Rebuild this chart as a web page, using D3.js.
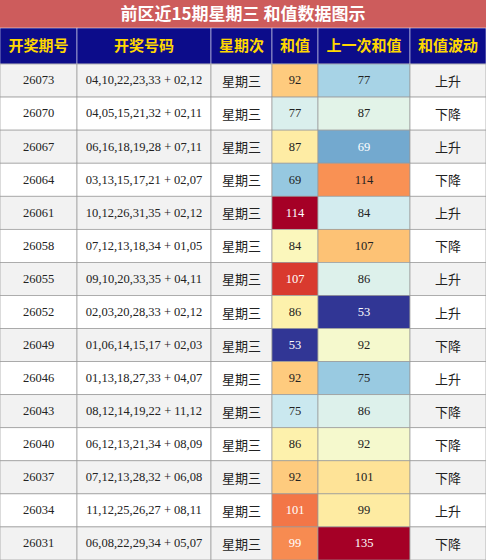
<!DOCTYPE html><html><head><meta charset="utf-8"><script src="https://cdn.jsdelivr.net/npm/d3@7"></script>
<style>body{margin:0;background:#fff}</style></head><body><svg id="c" width="486" height="560"></svg>
<script>
const title="前区近15期星期三 和值数据图示";
const headers=["开奖期号","开奖号码","星期次","和值","上一次和值","和值波动"];
const issues=["26073","26070","26067","26064","26061","26058","26055","26052","26049","26046","26043","26040","26037","26034","26031"];
const numbers=["04,10,22,23,33 + 02,12","04,05,15,21,32 + 02,11","06,16,18,19,28 + 07,11","03,13,15,17,21 + 02,07","10,12,26,31,35 + 02,12","07,12,13,18,34 + 01,05","09,10,20,33,35 + 04,11","02,03,20,28,33 + 02,12","01,06,14,15,17 + 02,03","01,13,18,27,33 + 04,07","08,12,14,19,22 + 11,12","06,12,13,21,34 + 08,09","07,12,13,28,32 + 06,08","11,12,25,26,27 + 08,11","06,08,22,29,34 + 05,07"];
const sums=[92,77,87,69,114,84,107,86,53,92,75,86,92,101,99];
const prevSums=[77,87,69,114,84,107,86,53,92,75,86,92,101,99,135];
const trends=["上升","下降","上升","下降","上升","下降","上升","上升","下降","上升","下降","下降","下降","上升","下降"];
const weekday="星期三";

const svg=d3.select("#c");
const W=486,H=560,titleH=28,headH=36;
const colEdges=[0,77,211,272,318,410,486];
const y=d3.scaleBand().domain(d3.range(issues.length)).range([titleH+headH,H]);
const tSum=d3.scaleLinear().domain(d3.extent(sums)).range([0,1]);
const tPrev=d3.scaleLinear().domain(d3.extent(prevSums)).range([0,1]);
const col=t=>d3.interpolateRdYlBu(1-t);
const txt=t=>(t<0.22||t>0.75)?"#fff":"#222";
svg.append("rect").attr("width",W).attr("height",titleH).attr("fill","#cd5c5c");
svg.append("text").attr("x",W/2).attr("y",titleH/2+1).attr("text-anchor","middle").attr("dominant-baseline","middle")
 .attr("fill","#fff").attr("font-size",17).attr("font-weight","bold").attr("font-family","Noto Sans CJK SC").text(title);
headers.forEach((h,i)=>{
 svg.append("rect").attr("x",colEdges[i]).attr("y",titleH).attr("width",colEdges[i+1]-colEdges[i]).attr("height",headH).attr("fill","#0c0c8a").attr("stroke","#fff").attr("stroke-width",0.5);
 svg.append("text").attr("x",(colEdges[i]+colEdges[i+1])/2).attr("y",titleH+headH/2+1).attr("text-anchor","middle").attr("dominant-baseline","middle")
  .attr("fill","#ffd700").attr("font-size",15).attr("font-weight","bold").attr("font-family","Noto Sans CJK SC").text(h);
});
issues.forEach((iss,r)=>{
 const yy=y(r),h=y.bandwidth();
 const vals=[iss,numbers[r],weekday,sums[r],prevSums[r],trends[r]];
 vals.forEach((v,i)=>{
  let fill=r%2?"#ffffff":"#f2f2f2",tc="#222";
  if(i===3){const t=tSum(v);fill=col(t);tc=txt(t);}
  if(i===4){const t=tPrev(v);fill=col(t);tc=txt(t);}
  svg.append("rect").attr("x",colEdges[i]).attr("y",yy).attr("width",colEdges[i+1]-colEdges[i]).attr("height",h).attr("fill",fill).attr("stroke","#999").attr("stroke-width",0.7);
  const cjk=(i===2||i===5);
  svg.append("text").attr("x",(colEdges[i]+colEdges[i+1])/2).attr("y",yy+h/2+(cjk?2:1)).attr("text-anchor","middle").attr("dominant-baseline","middle")
   .attr("fill",tc).attr("font-size",cjk?13:12.5).attr("font-family",cjk?"Noto Sans CJK SC":"Liberation Serif").text(v);
 });
});
</script></body></html>
